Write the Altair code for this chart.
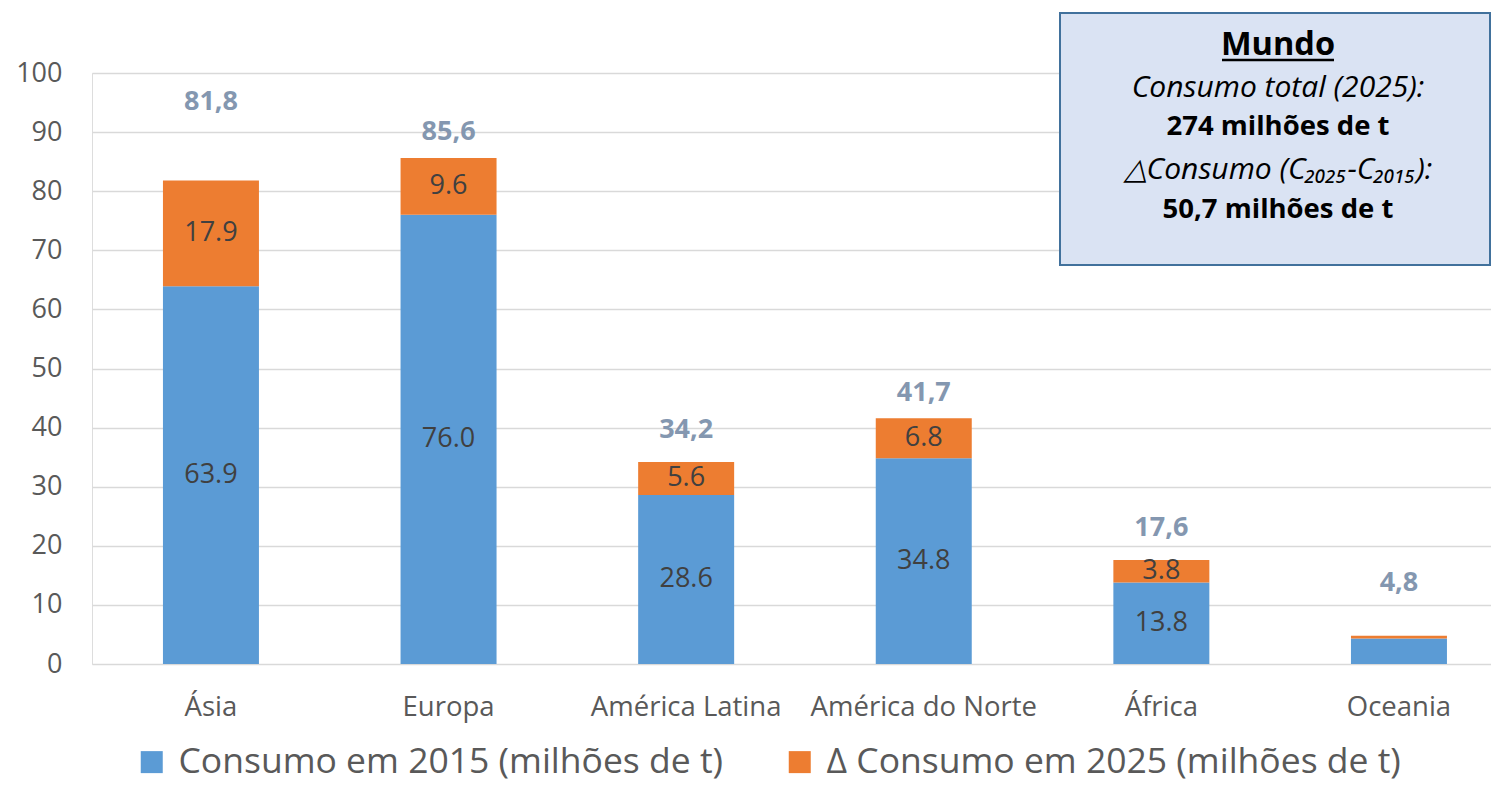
import altair as alt
import pandas as pd

# ---- data ----
regions = ["Ásia", "Europa", "América Latina", "América do Norte", "África", "Oceania"]
consumo_2015 = [63.9, 76.0, 28.6, 34.8, 13.8, 4.3]
delta_2025 = [17.9, 9.6, 5.6, 6.8, 3.8, 0.5]
totals_2025 = [81.8, 85.6, 34.2, 41.7, 17.6, 4.8]
series_names = ["Consumo em 2015 (milhões de t)", "Δ Consumo em 2025 (milhões de t)"]
series_colors = ["#5B9BD5", "#ED7D31"]
y_ticks = [0, 10, 20, 30, 40, 50, 60, 70, 80, 90, 100]
# where the total labels sit in the source (axis units)
total_label_at = [95.1, 90.0, 39.6, 45.9, 23.0, 13.7]
# regions whose segments carry value labels in the source
segment_labelled = ["Ásia", "Europa", "América Latina", "América do Norte", "África"]

box_lines = ["Mundo", "Consumo total (2025):", "274 milhões de t",
             "△Consumo (C₂₀₂₅-C₂₀₁₅):", "50,7 milhões de t"]

FONT = "Open Sans"

rows = []
for i, r in enumerate(regions):
    rows.append({"region": r, "series": series_names[0], "value": consumo_2015[i], "ord": 0,
                 "lab": r in segment_labelled})
    rows.append({"region": r, "series": series_names[1], "value": delta_2025[i], "ord": 1,
                 "lab": r in segment_labelled})
bars_df = pd.DataFrame(rows)

tot_df = pd.DataFrame({
    "region": regions,
    "total": totals_2025,
    "pos": total_label_at,
    "label": [f"{t:.1f}".replace(".", ",") for t in totals_2025],
})

x_scale = alt.Scale(domain=regions, paddingInner=0.596, paddingOuter=0.242, align=0.617)
y_scale = alt.Scale(domain=[0, 100], nice=False)

x_enc = alt.X("region:N", scale=x_scale, sort=regions,
              axis=alt.Axis(title=None, labelAngle=0, labelFontSize=27.5, labelColor="#595959",
                            labelFont=FONT, domain=False, ticks=False, labelPadding=29,
                            labelLimit=400))

bars = alt.Chart(bars_df).mark_bar().encode(
    x=x_enc,
    y=alt.Y("value:Q", stack="zero", scale=y_scale,
            axis=alt.Axis(title=None, values=y_ticks, labelFontSize=27, labelColor="#595959",
                          labelFont=FONT, domain=False, ticks=False, labelPadding=30,
                          gridColor="#D9D9D9", gridWidth=1.5)),
    color=alt.Color("series:N", scale=alt.Scale(domain=series_names, range=series_colors),
                    legend=alt.Legend(title=None, orient="none", legendX=42, legendY=671,
                                      direction="horizontal",
                                      labelFontSize=35.5, labelColor="#595959", labelFont=FONT,
                                      symbolType="square", symbolSize=484, symbolStrokeWidth=0,
                                      labelOffset=9, labelLimit=1000, columnPadding=58)),
    order=alt.Order("ord:Q"),
)

seg_labels = alt.Chart(bars_df).transform_stack(
    stack="value", groupby=["region"], as_=["v0", "v1"],
    sort=[alt.SortField("ord", order="ascending")]
).transform_calculate(
    mid="(datum.v0 + datum.v1) / 2"
).transform_filter(
    "datum.lab"
).mark_text(fontSize=27, color="#404040", font=FONT).encode(
    x=alt.X("region:N", scale=x_scale, sort=regions),
    y=alt.Y("mid:Q", scale=y_scale),
    text=alt.Text("value:Q", format=".1f"),
)

tot_labels = alt.Chart(tot_df).mark_text(fontSize=27, fontWeight="bold", color="#8497B0",
                                         font=FONT).encode(
    x=alt.X("region:N", scale=x_scale, sort=regions),
    y=alt.Y("pos:Q", scale=y_scale),
    text="label:N",
)

one = alt.Data(values=[{"k": 1}])
BX0, BX1, BY0, BY1 = 968, 1398, -60, 192
CX = 1186

box = alt.Chart(one).mark_rect(fill="#DAE3F3", stroke="#41719C", strokeWidth=2).encode(
    x=alt.value(BX0), x2=alt.value(BX1), y=alt.value(BY0), y2=alt.value(BY1))

def box_text(txt, y, size, weight="normal", style="normal"):
    return alt.Chart(one).mark_text(fontSize=size, fontWeight=weight, fontStyle=style,
                                    color="#000000", font=FONT, align="center",
                                    baseline="middle").encode(
        x=alt.value(CX), y=alt.value(y), text=alt.value(txt))

t0 = box_text(box_lines[0], -28, 32.5, "bold")
t1 = box_text(box_lines[1], 15, 30, style="italic")
t2 = box_text(box_lines[2], 54, 27.5, "bold")
t3 = box_text(box_lines[3], 97, 30, style="italic")
t4 = box_text(box_lines[4], 137, 27.5, "bold")
underline = alt.Chart(one).mark_rule(color="#000000", strokeWidth=2.5).encode(
    x=alt.value(CX - 56), x2=alt.value(CX + 56), y=alt.value(-13))

chart = alt.layer(bars, seg_labels, tot_labels, box, t0, t1, t2, t3, t4, underline).properties(
    width=1399, height=591,
    autosize=alt.AutoSizeParams(type="none"),
    padding={"left": 84, "top": 65, "right": 0, "bottom": 118},
).configure_view(stroke=None).configure(font=FONT)

chart.save("out.html", embed_options={"renderer": "svg", "actions": False})
